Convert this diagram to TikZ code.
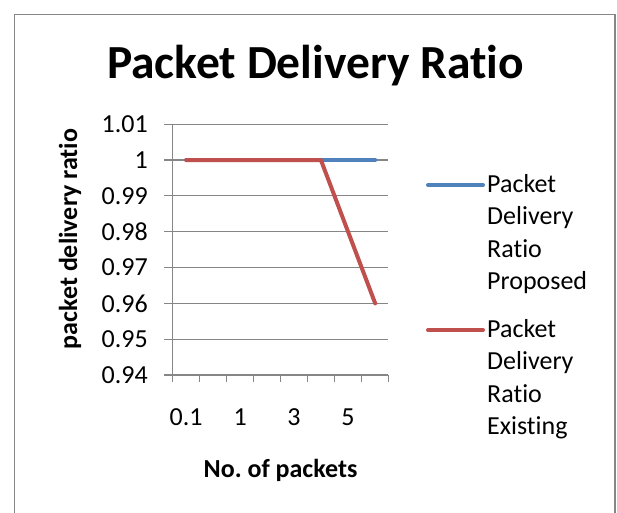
\documentclass[tikz,border=0pt]{standalone}
\usepackage{fontspec}
\setmainfont{Carlito}[Ligatures=NoCommon]
\definecolor{gridgray}{RGB}{134,134,134}
\definecolor{propblue}{RGB}{79,129,189}
\definecolor{existred}{RGB}{192,80,77}
\frenchspacing
\begin{document}
\begin{tikzpicture}[x=1pt, y=-1pt,
    gridline/.style={draw=gridgray, line width=1.2pt},
    series/.style={line width=4pt, line cap=round, line join=round},
    ticklabel/.style={font=\fontsize{26}{26}\selectfont, inner sep=0pt},
    axistitle/.style={font=\bfseries\fontsize{26}{26}\selectfont, inner sep=0pt},
    legendtext/.style={font=\fontsize{26}{32.4}\selectfont, inner sep=0pt, align=left}]
        \useasboundingbox (0,0) rectangle (617,512);
        % Frame
        \draw [gridgray, line width=1.5pt, fill=white] (14.5,14.5) rectangle (615,540);

        % Title
        \node [font=\bfseries\fontsize{47.5}{47.5}\selectfont, inner sep=0pt, anchor=base] (title) at (315.5,78) {Packet Delivery Ratio};

        % Grid and y labels
        \foreach \lab [count=\i from 0] in {1.01,1,0.99,0.98,0.97,0.96,0.95,0.94} {
            \draw [gridline] (164,124.2+35.83*\i) -- (388.3,124.2+35.83*\i);
            \node [ticklabel, anchor=east] (ylab\i) at (148,124.2+35.83*\i) {\lab};
        }

        % Axes
        \draw [gridline] (172.7,124.2) -- (172.7,375);
        \foreach \i in {0,...,8}
            \draw [gridline] (172.7+26.95*\i,375) -- (172.7+26.95*\i,382);

        % x labels
        \node [ticklabel] (xlab1) at (186.2,417) {0.1};
        \node [ticklabel] (xlab3) at (240.1,417) {1};
        \node [ticklabel] (xlab5) at (294,417) {3};
        \node [ticklabel] (xlab7) at (347.9,417) {5};

        % Axis titles
        \node [axistitle, anchor=base] (xtitle) at (280.5,477) {No. of packets};
        \node [axistitle, anchor=base, rotate=90] (ytitle) at (77,239) {packet delivery ratio};

        % Data
        \coordinate (p1) at (186.2,160);
        \coordinate (p8) at (375.2,160);
        \coordinate (e1) at (186.2,160);
        \coordinate (e6) at (320.9,160);
        \coordinate (e8) at (375.2,303.4);
        \draw [series, propblue] (p1) -- (p8);
        \draw [series, existred] (e1) -- (e6) -- (e8);

        % Legend
        \coordinate (lp0) at (428,185);
        \coordinate (lp1) at (483,185);
        \coordinate (le0) at (428,330);
        \coordinate (le1) at (483,330);
        \draw [series, propblue] (lp0) -- (lp1);
        \draw [series, existred] (le0) -- (le1);
        % (base = last line)
        \node [legendtext, anchor=base west] (legprop) at (487,289.7) {Packet\\Delivery\\Ratio\\Proposed};
        \node [legendtext, anchor=base west] (legexist) at (487,434.7) {Packet\\Delivery\\Ratio\\Existing};
\end{tikzpicture}
\end{document}
